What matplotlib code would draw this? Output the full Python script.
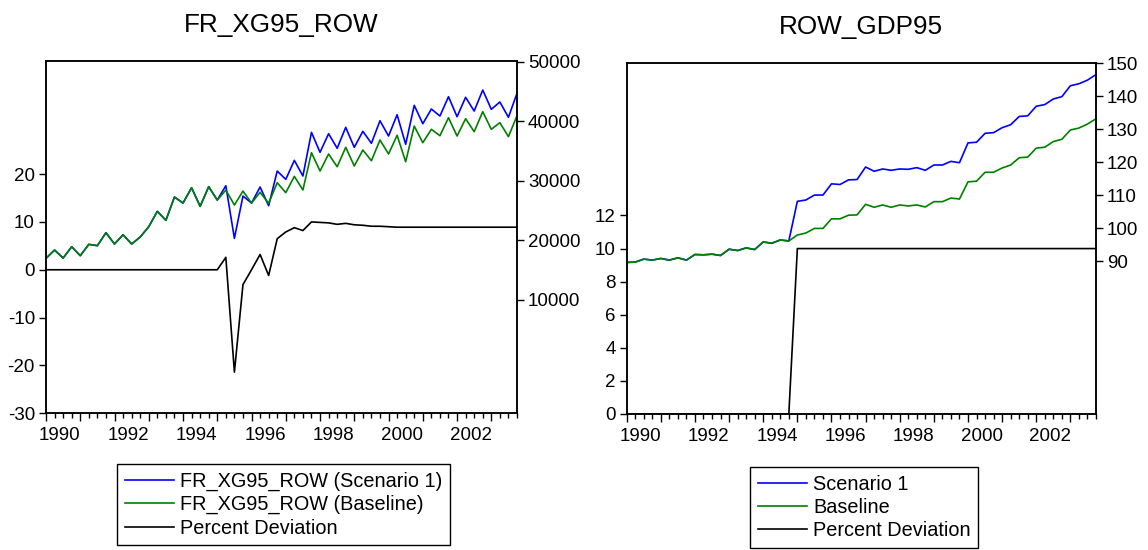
import numpy as np
import matplotlib
matplotlib.use("Agg")
import matplotlib.pyplot as plt

plt.rcParams["font.family"] = ["Liberation Sans", "DejaVu Sans"]
plt.rcParams["axes.unicode_minus"] = False

# kvartalsdata 1990Q1 - 2003Q4
aar = list(range(1990, 2004))
kvartaler = [f"{a}Q{q}" for a in aar for q in range(1, 5)]
aar_etiketter = ["1990", "1992", "1994", "1996", "1998", "2000", "2002"]

# FR_XG95_ROW
fr_scenario = [16950, 18350, 17000, 18900, 17400, 19300, 19080, 21260, 19360, 20920,
               19360, 20530, 22270, 24850, 23340, 27260, 26250, 28820, 25690, 28990,
               26750, 29160, 20310, 27420, 26250, 28940, 25800, 31620, 30230, 33420,
               30790, 38130, 34770, 37900, 35450, 38970, 35610, 38300, 36290, 40080,
               37510, 41090, 36120, 42670, 39580, 42050, 40870, 44120, 40760, 44020,
               41710, 45240, 42000, 43230, 40660, 44690]
fr_baseline = [16950, 18350, 17000, 18900, 17400, 19300, 19080, 21260, 19360, 20920,
               19360, 20530, 22270, 24850, 23340, 27260, 26250, 28820, 25690, 28990,
               26750, 28430, 25910, 28260, 26250, 28050, 26200, 29660, 27990, 30730,
               28440, 34710, 31630, 34490, 32350, 35610, 32470, 35160, 33360, 36840,
               34490, 37630, 33190, 39190, 36390, 38640, 37560, 40590, 37510, 40420,
               38240, 41600, 38640, 39750, 37400, 40920]
fr_avvik = [0, 0, 0, 0, 0, 0, 0, 0, 0, 0,
            0, 0, 0, 0, 0, 0, 0, 0, 0, 0,
            0, 2.6, -21.4, -3.1, 0.0, 3.2, -1.2, 6.5, 7.9, 8.8,
            8.2, 10.0, 9.9, 9.8, 9.5, 9.7, 9.4, 9.3, 9.1, 9.1,
            9.0, 8.9, 8.9, 8.9, 8.9, 8.9, 8.9, 8.9, 8.9, 8.9,
            8.9, 8.9, 8.9, 8.9, 8.9, 8.9]

# ROW_GDP95
gdp_scenario = [89.7, 89.8, 90.7, 90.4, 90.9, 90.4, 91.1, 90.4, 92.1, 92.0,
                92.2, 91.8, 93.7, 93.3, 94.1, 93.6, 95.9, 95.5, 96.5, 96.2,
                108.2, 108.6, 110.1, 110.1, 113.5, 113.3, 114.7, 114.8, 118.6, 117.3,
                118.0, 117.6, 118.0, 117.9, 118.4, 117.6, 119.2, 119.2, 120.3, 119.9,
                125.9, 126.1, 128.8, 129.0, 130.5, 131.4, 133.9, 134.1, 137.0, 137.5,
                139.2, 139.9, 143.2, 143.8, 144.9, 146.6]
gdp_baseline = [89.7, 89.8, 90.7, 90.4, 90.9, 90.4, 91.1, 90.4, 92.1, 92.0,
                92.2, 91.8, 93.7, 93.3, 94.1, 93.6, 95.9, 95.5, 96.5, 96.2,
                98.0, 98.6, 100.0, 100.0, 102.9, 102.9, 104.0, 104.1, 107.3, 106.4,
                107.1, 106.4, 107.1, 106.8, 107.1, 106.5, 108.1, 108.1, 109.2, 108.9,
                114.1, 114.3, 117.0, 117.0, 118.3, 119.2, 121.4, 121.6, 124.3, 124.6,
                126.3, 127.0, 129.8, 130.4, 131.6, 133.2]
gdp_avvik = [0, 0, 0, 0, 0, 0, 0, 0, 0, 0,
             0, 0, 0, 0, 0, 0, 0, 0, 0, 0,
             10, 10, 10, 10, 10, 10, 10, 10, 10, 10,
             10, 10, 10, 10, 10, 10, 10, 10, 10, 10,
             10, 10, 10, 10, 10, 10, 10, 10, 10, 10,
             10, 10, 10, 10, 10, 10]

BLA = "#0000ff"
GRONN = "#008000"
SVART = "#000000"
FS = 13.5      # tick-tekst
FS_LEG = 14.3  # legend
FS_TIT = 18.8  # titler

x = np.arange(len(kvartaler))


def pynt_akse(ax, ax2):
    # x-akse: lange streker ved årsskifte, korte for hvert kvartal
    ax.set_xlim(0, len(kvartaler) - 1)
    ax.set_xticks(np.arange(0, len(kvartaler), 4))
    ax.set_xticklabels([])
    ax.set_xticks(np.arange(0, len(kvartaler)), minor=True)
    ax.tick_params(axis="x", which="major", length=6, width=1, direction="out")
    ax.tick_params(axis="x", which="minor", length=3.5, width=1, direction="out")
    # årstall midt i året
    pos = [kvartaler.index(a + "Q1") + 1.6 for a in aar_etiketter]
    sek = ax.secondary_xaxis("bottom")
    sek.set_xticks(pos)
    sek.set_xticklabels(aar_etiketter, fontsize=FS)
    sek.tick_params(length=0, pad=10)
    sek.spines["bottom"].set_visible(False)
    for a in (ax, ax2):
        for s in a.spines.values():
            s.set_linewidth(1.1)
            s.set_color("black")
    ax.tick_params(axis="y", length=5, width=1, labelsize=FS, pad=3)
    ax2.tick_params(axis="y", length=5, width=1, labelsize=FS, pad=3)


fig = plt.figure(figsize=(11.48, 5.5), dpi=100)

# venstre: FR_XG95_ROW
ax1 = fig.add_axes([46 / 1148, 1 - 413.3 / 550, 471 / 1148, 352.6 / 550])
ax1b = ax1.twinx()
l3, = ax1.plot(x, fr_avvik, color=SVART, lw=1.2)
l1, = ax1b.plot(x, fr_scenario, color=BLA, lw=1.2)
l2, = ax1b.plot(x, fr_baseline, color=GRONN, lw=1.2)
ax1.set_ylim(-30, 43.7)
ax1.set_yticks([-30, -20, -10, 0, 10, 20])
ax1b.set_ylim(-9090, 50170)
ax1b.set_yticks([10000, 20000, 30000, 40000, 50000])
pynt_akse(ax1, ax1b)
ax1.set_title("FR_XG95_ROW", fontsize=FS_TIT, pad=21)

fig.legend([l1, l2, l3],
           ["FR_XG95_ROW (Scenario 1)", "FR_XG95_ROW (Baseline)", "Percent Deviation"],
           loc="upper left", bbox_to_anchor=(117 / 1148, 1 - 464 / 550),
           borderaxespad=0, fontsize=FS_LEG, fancybox=False, framealpha=1,
           edgecolor="black", handlelength=2.5, labelspacing=0.22,
           borderpad=0.38, handletextpad=0.3)

# høyre: ROW_GDP95
ax2 = fig.add_axes([626.7 / 1148, 1 - 414 / 550, 469.3 / 1148, 350.7 / 550])
ax2b = ax2.twinx()
m3, = ax2.plot(x, gdp_avvik, color=SVART, lw=1.2)
m1, = ax2b.plot(x, gdp_scenario, color=BLA, lw=1.2)
m2, = ax2b.plot(x, gdp_baseline, color=GRONN, lw=1.2)
ax2.set_ylim(0, 21.2)
ax2.set_yticks([0, 2, 4, 6, 8, 10, 12])
ax2b.set_ylim(43.8, 150)
ax2b.set_yticks([90, 100, 110, 120, 130, 140, 150])
pynt_akse(ax2, ax2b)
ax2.set_title("ROW_GDP95", fontsize=FS_TIT, pad=21)

fig.legend([m1, m2, m3], ["Scenario 1", "Baseline", "Percent Deviation"],
           loc="upper left", bbox_to_anchor=(750 / 1148, 1 - 467 / 550),
           borderaxespad=0, fontsize=FS_LEG, fancybox=False, framealpha=1,
           edgecolor="black", handlelength=2.5, labelspacing=0.22,
           borderpad=0.38, handletextpad=0.3)

fig.savefig("out.png", dpi=100)
